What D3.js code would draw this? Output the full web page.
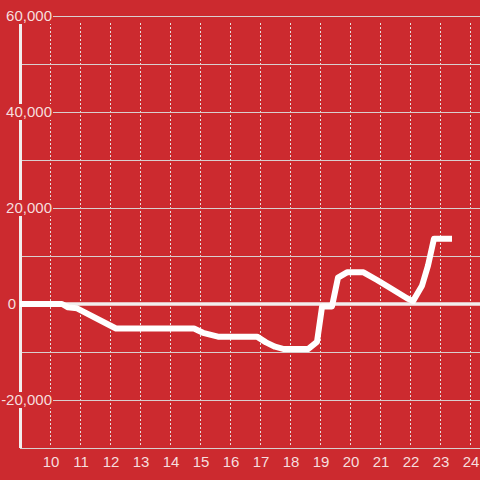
<!DOCTYPE html>
<html>
<head>
<meta charset="utf-8">
<script src="https://cdn.jsdelivr.net/npm/d3@7"></script>
<style>
  html, body { margin: 0; padding: 0; background: #cc2a2f; }
  svg { display: block; font-family: "Liberation Sans", Arial, sans-serif; }
</style>
</head>
<body>
<div id="chart"></div>
<script>
// hour of day and value
const hours  = [9, 10.4, 10.6, 10.9, 12.2, 14.8, 15.1, 15.6, 16.9, 17.2, 17.5, 17.8, 18.6, 18.9, 19.07, 19.4, 19.6, 19.9, 20.45, 20.9, 21.3, 21.9, 22.1, 22.4, 22.6, 22.8, 23.4];
const values = [0, 0, -700, -900, -5100, -5100, -6000, -6800, -6800, -8000, -8900, -9400, -9400, -7900, -500, -500, 5500, 6600, 6600, 5000, 3500, 1200, 600, 3800, 8000, 13600, 13600];
const xTicks = [10, 11, 12, 13, 14, 15, 16, 17, 18, 19, 20, 21, 22, 23, 24];
const yGrid = [60000, 50000, 40000, 30000, 20000, 10000, -10000, -20000, -30000];
const yLabels = [60000, 40000, 20000, -20000];

const W = 480, H = 480;
const bg = '#cc2a2f';

const svg = d3.select('#chart').append('svg')
    .attr('width', W)
    .attr('height', H);

svg.append('rect').attr('width', W).attr('height', H).attr('fill', bg);

const x = d3.scaleLinear().domain([9, 24 + 1 / 3]).range([20, 480]);
const y = d3.scaleLinear().domain([-30000, 60000]).range([448, 16]);
const fmt = v => d3.format(',')(v).replace('\u2212', '-');

// vertical dashed grid
svg.append('g')
    .selectAll('line')
    .data(xTicks)
    .enter()
    .append('line')
    .attr('x1', d => Math.round(x(d)) + 0.5)
    .attr('x2', d => Math.round(x(d)) + 0.5)
    .attr('y1', y(60000) + 7)
    .attr('y2', y(-30000) - 2)
    .attr('stroke', '#e6dede')
    .attr('stroke-width', 1)
    .attr('stroke-dasharray', '2,2');

// horizontal grid
svg.append('g')
    .selectAll('line')
    .data(yGrid)
    .enter()
    .append('line')
    .attr('x1', 20)
    .attr('x2', W)
    .attr('y1', d => Math.round(y(d)) + 0.5)
    .attr('y2', d => Math.round(y(d)) + 0.5)
    .attr('stroke', '#d9cfcf')
    .attr('stroke-width', 1);

// y axis line
svg.append('line')
    .attr('x1', 20.5).attr('x2', 20.5)
    .attr('y1', y(60000)).attr('y2', y(-30000))
    .attr('stroke', '#f2eeee')
    .attr('stroke-width', 3);

// y labels with background boxes
const yl = svg.append('g');
yl.selectAll('rect')
    .data(yLabels)
    .enter()
    .append('rect')
    .attr('x', 0)
    .attr('width', 53)
    .attr('y', d => y(d) - 8)
    .attr('height', 16)
    .attr('fill', bg);
yl.selectAll('text')
    .data(yLabels)
    .enter()
    .append('text')
    .attr('x', 52)
    .attr('y', d => y(d))
    .attr('dy', '0.36em')
    .attr('text-anchor', 'end')
    .attr('font-size', 15)
    .attr('fill', '#f6dede')
    .text(fmt);

// zero line and label
svg.append('line')
    .attr('x1', 19).attr('x2', W)
    .attr('y1', y(0)).attr('y2', y(0))
    .attr('stroke', '#f2eeee')
    .attr('stroke-width', 3.5);
svg.append('text')
    .attr('x', 16)
    .attr('y', y(0))
    .attr('dy', '0.36em')
    .attr('text-anchor', 'end')
    .attr('font-size', 15)
    .attr('fill', '#f6dede')
    .text('0');

// x labels
svg.append('g')
    .selectAll('text')
    .data(xTicks)
    .enter()
    .append('text')
    .attr('x', d => x(d) + 1)
    .attr('y', 467)
    .attr('text-anchor', 'middle')
    .attr('font-size', 15)
    .attr('fill', '#f6dede')
    .text(d => d);

// data line
const line = d3.line()
    .x((d, i) => x(hours[i]))
    .y(d => y(d));

svg.append('path')
    .datum(values)
    .attr('d', line)
    .attr('fill', 'none')
    .attr('stroke', '#ffffff')
    .attr('stroke-width', 6)
    .attr('stroke-linejoin', 'round');
</script>
</body>
</html>
